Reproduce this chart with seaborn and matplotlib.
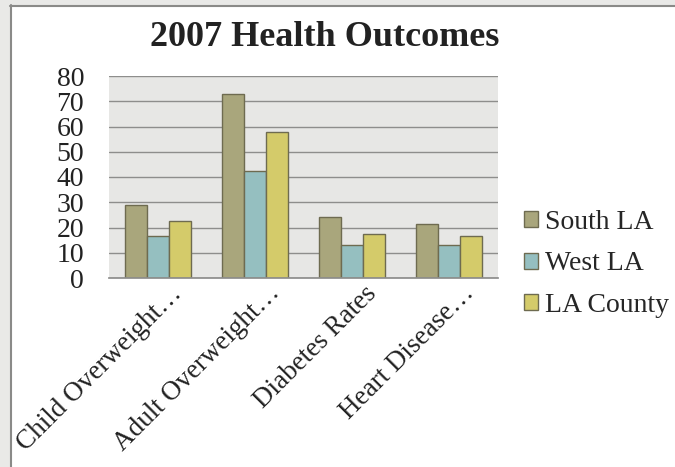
import matplotlib
matplotlib.use("Agg")
import matplotlib.pyplot as plt
from matplotlib.patches import Rectangle
import matplotlib.transforms as mtrans
import seaborn as sns
import pandas as pd

categories = ["Child Overweight…", "Adult Overweight…", "Diabetes Rates", "Heart Disease…"]
series_names = ["South LA", "West LA", "LA County"]
south_la = [29, 73, 24, 21.5]
west_la = [16.5, 42.5, 13, 13]
la_county = [22.5, 58, 17.5, 16.5]
y_ticks = [0, 10, 20, 30, 40, 50, 60, 70, 80]

colors = ["#A9A67C", "#95BFC0", "#D4CB6A"]
edge = "#6E6B50"

rows = []
for name, vals in zip(series_names, [south_la, west_la, la_county]):
    for c, v in zip(categories, vals):
        rows.append({"Category": c, "Series": name, "Value": v})
df = pd.DataFrame(rows)

sns.set_theme(style="white")
plt.rcParams["font.family"] = ["Liberation Serif", "DejaVu Serif"]

fig = plt.figure(figsize=(6.75, 4.67), dpi=100)
fig.patch.set_facecolor("white")
W, H = 675, 467
# screenshot frame decorations
fig.patches.append(Rectangle((0, 0), 10 / W, 1, transform=fig.transFigure, facecolor="#E9E9E7", edgecolor="none", zorder=0))
fig.patches.append(Rectangle((0, 1 - 5 / H), 1, 5 / H, transform=fig.transFigure, facecolor="#E9E9E7", edgecolor="none", zorder=0))
fig.add_artist(plt.Line2D([10.5 / W, 10.5 / W], [0, 1 - 5 / H], transform=fig.transFigure, color="#8A8A88", lw=1.5))
fig.add_artist(plt.Line2D([10 / W, 1], [1 - 5.5 / H, 1 - 5.5 / H], transform=fig.transFigure, color="#8A8A88", lw=1.5))

ax = fig.add_axes([109 / W, 1 - 278 / H, (498 - 109) / W, (278 - 76) / H])
sns.barplot(data=df, x="Category", y="Value", hue="Series", palette=colors,
            width=0.68, gap=0, edgecolor=edge, linewidth=1.0, ax=ax, saturation=1)
ax.set_facecolor("#E7E7E5")
ax.set_ylim(0, 80)
ax.set_yticks(y_ticks)
ax.set_yticklabels([str(t) for t in y_ticks], fontsize=20, color="#222222")
ax.yaxis.grid(True, color="#8E8E8C", linewidth=1.0)
ax.set_axisbelow(True)
for s in ["left", "right", "top"]:
    ax.spines[s].set_visible(False)
ax.spines["bottom"].set_color("#8E8E8C")
ax.tick_params(axis="y", length=0, pad=18)
ax.tick_params(axis="x", length=0, pad=2)
ax.set_xlabel("")
ax.set_ylabel("")
ax.set_xticks(range(len(categories)))
ax.set_xticklabels(categories, rotation=45, ha="right", rotation_mode="anchor", fontsize=19.5, color="#222222")
ax.set_xlim(-0.5, len(categories) - 0.5)
offset = mtrans.ScaledTranslation(12 / 100, 0, fig.dpi_scale_trans)
for lab in ax.get_xticklabels():
    lab.set_transform(lab.get_transform() + offset)

fig.text(325 / W, 1 - 37 / H, "2007 Health Outcomes", ha="center", va="center", fontsize=26, fontweight="bold", color="#222222")

handles, labels = ax.get_legend_handles_labels()
ax.legend(handles, labels, loc="center left",
          bbox_to_anchor=((524 - 109) / 389, (278 - 264) / 202), bbox_transform=ax.transAxes,
          frameon=False, borderpad=0, borderaxespad=0,
          fontsize=20, handlelength=0.5, handleheight=0.5, handletextpad=0.25, labelspacing=0.6)

fig.savefig("out.png", dpi=100)
